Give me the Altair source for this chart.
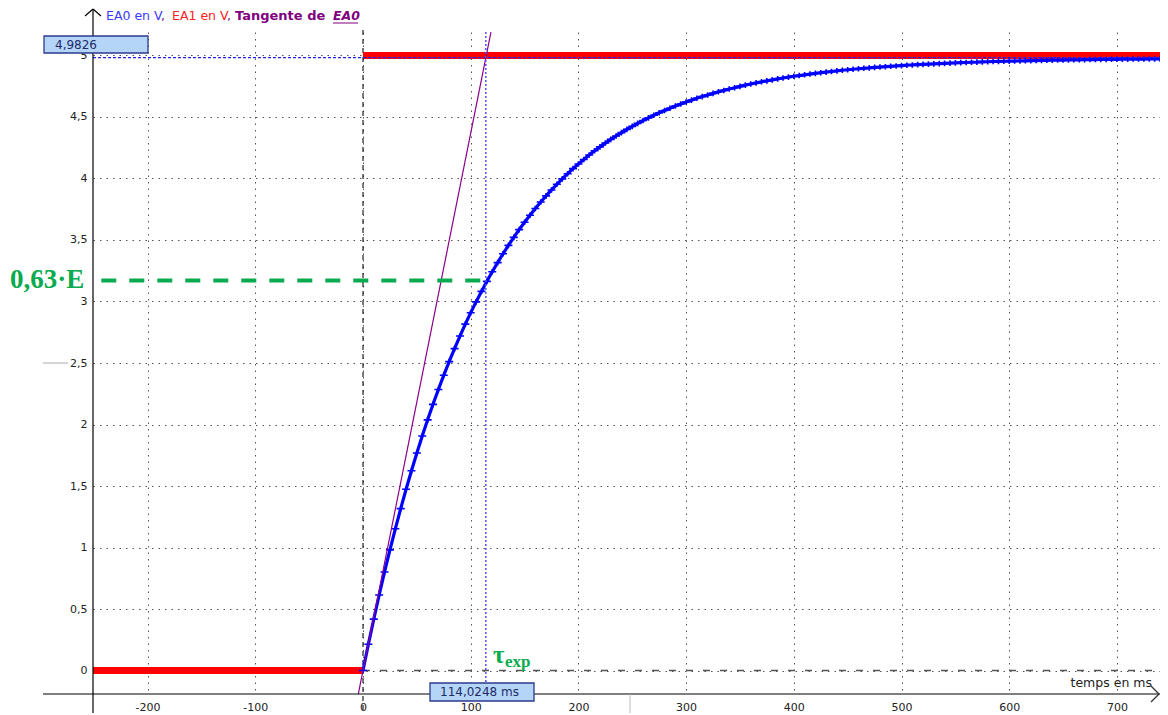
import altair as alt
import pandas as pd

# ---------------- data ----------------
t_ms = list(range(0, 745, 5))
ea0_v = [0.000, 0.214, 0.418, 0.614, 0.801, 0.981, 1.152, 1.316, 1.474, 1.624,
         1.768, 1.906, 2.038, 2.164, 2.285, 2.401, 2.511, 2.617, 2.719, 2.816,
         2.909, 2.997, 3.082, 3.164, 3.242, 3.316, 3.388, 3.456, 3.521, 3.584,
         3.644, 3.701, 3.756, 3.809, 3.859, 3.907, 3.953, 3.997, 4.039, 4.080,
         4.118, 4.155, 4.191, 4.225, 4.257, 4.288, 4.318, 4.346, 4.373, 4.399,
         4.424, 4.448, 4.471, 4.493, 4.514, 4.534, 4.553, 4.571, 4.589, 4.606,
         4.622, 4.637, 4.652, 4.666, 4.679, 4.692, 4.705, 4.716, 4.728, 4.738,
         4.749, 4.759, 4.768, 4.777, 4.786, 4.794, 4.802, 4.810, 4.817, 4.824,
         4.831, 4.837, 4.843, 4.849, 4.855, 4.860, 4.865, 4.870, 4.875, 4.880,
         4.884, 4.888, 4.892, 4.896, 4.899, 4.903, 4.906, 4.909, 4.912, 4.915,
         4.918, 4.921, 4.923, 4.926, 4.928, 4.930, 4.932, 4.934, 4.936, 4.938,
         4.940, 4.942, 4.943, 4.945, 4.946, 4.948, 4.949, 4.951, 4.952, 4.953,
         4.954, 4.955, 4.956, 4.957, 4.958, 4.959, 4.960, 4.961, 4.962, 4.963,
         4.963, 4.964, 4.965, 4.965, 4.966, 4.967, 4.967, 4.968, 4.968, 4.969,
         4.969, 4.970, 4.970, 4.971, 4.971, 4.971, 4.972, 4.972, 4.972]

ea1_start = [-252, 0]
ea1_end = [0, 742]
ea1_level = [0, 5]

tangent_t = [-4.35, 118.8]
tangent_v = [-0.19, 5.19]

tau_ms = 114.0248
e_cursor = 4.9826
v63 = 3.17
green_start = -243

x_ticks = [-200, -100, 0, 100, 200, 300, 400, 500, 600, 700]
y_ticks = [0, 0.5, 1, 1.5, 2, 2.5, 3, 3.5, 4, 4.5, 5]

X_DOMAIN = [-250.7, 740.0]
Y_DOMAIN = [-0.191, 5.191]
W, H = 1067, 662

# ---------------- chart ----------------
xs = alt.Scale(domain=X_DOMAIN, nice=False, zero=False)
ys = alt.Scale(domain=Y_DOMAIN, nice=False, zero=False)
one = pd.DataFrame({"d": [0]})

ea0 = pd.DataFrame({"t": t_ms[:len(ea0_v)], "v": ea0_v})
ea1 = pd.DataFrame({"t": ea1_start, "t2": ea1_end, "v": ea1_level})
tang = pd.DataFrame({"t": tangent_t, "v": tangent_v})

grid_dash = [1.5, 5]
xax = alt.Axis(values=x_ticks, grid=True, gridDash=grid_dash, gridColor="#555",
               gridWidth=1, domain=False, ticks=False, labelPadding=7,
               labelExpr="'' + datum.value", labelOverlap=False, labelFlush=False,
               title=None)
yax = alt.Axis(values=y_ticks, grid=True, gridDash=grid_dash, gridColor="#555",
               gridWidth=1, domain=False, ticks=False, labelPadding=6,
               labelExpr="replace(toString(datum.value), '.', ',')", labelOverlap=False,
               labelFlush=False, title=None)


def X(f="t:Q"):
    return alt.X(f, scale=xs, axis=xax, title=None)


def Y(f="v:Q"):
    return alt.Y(f, scale=ys, axis=yax, title=None)


def prule(x, x2, y, y2, color="black", width=1, dash=None):
    kw = dict(color=color, strokeWidth=width)
    if dash:
        kw["strokeDash"] = dash
    return alt.Chart(one).mark_rule(**kw).encode(
        x=alt.value(x), x2=alt.value(x2), y=alt.value(y), y2=alt.value(y2))


def txt(s, x, y, color="#222", size=12, font="DejaVu Sans", weight="normal",
        align="left", baseline="middle", style=None):
    kw = dict(text=s, align=align, baseline=baseline, color=color, fontSize=size,
              font=font, fontWeight=weight)
    if style:
        kw["fontStyle"] = style
    return alt.Chart(one).mark_text(**kw).encode(x=alt.value(x), y=alt.value(y))


def box(x, x2, y, y2):
    return alt.Chart(one).mark_rect(fill="#b4d5f7", stroke="#2d3a8f", strokeWidth=1.3).encode(
        x=alt.value(x), x2=alt.value(x2), y=alt.value(y), y2=alt.value(y2))


# vertical dashed line at t = 0
vzero = alt.Chart(pd.DataFrame({"t": [0]})).mark_rule(
    color="#222", strokeWidth=1.2, strokeDash=[5, 4]).encode(
    x=X(), y=alt.value(-2), y2=alt.value(H + 20))

# horizontal dashed line at 0 V (from t = 0)
hzero = alt.Chart(pd.DataFrame({"t": [0], "t2": [X_DOMAIN[1]], "v": [0]})).mark_rule(
    color="#555", strokeWidth=1.5, strokeDash=[7, 10]).encode(
    x=X(), x2="t2:Q", y=Y())

# EA1 (red)
red = alt.Chart(ea1).mark_rule(color="#ff0000", strokeWidth=7, clip=True).encode(
    x=X(), x2="t2:Q", y=Y())

# EA0 (blue) curve with + markers
blue_line = alt.Chart(ea0).mark_line(color="#0000ff", strokeWidth=3.2, clip=True).encode(
    x=X(), y=Y())
blue_pts = alt.Chart(ea0).mark_point(
    shape="M-1,0H1M0,-0.7V0.7", size=64, filled=False, strokeWidth=1.6,
    color="#0000ff", opacity=1, clip=True).encode(x=X(), y=Y())

# tangent (purple)
tangent = alt.Chart(tang).mark_line(color="#8b008b", strokeWidth=1.2).encode(
    x=X(), y=Y())

# cursor lines (blue dotted)
cur_v = alt.Chart(pd.DataFrame({"t": [tau_ms]})).mark_rule(
    color="#5050ff", strokeWidth=1.5, strokeDash=[2, 2]).encode(
    x=X(), y=alt.value(0), y2=alt.value(H))
cur_h = alt.Chart(pd.DataFrame({"v": [e_cursor]})).mark_rule(
    color="#2020ff", strokeWidth=1.3, strokeDash=[3, 2]).encode(
    y=Y(), x=alt.value(0), x2=alt.value(W))

# green 0.63 E dashed line
green = alt.Chart(pd.DataFrame({"t": [green_start], "t2": [tau_ms], "v": [v63]})).mark_rule(
    color="#0aab4f", strokeWidth=4, strokeDash=[15, 13]).encode(
    x=X(), x2="t2:Q", y=Y())

# axes lines and arrows (pixel decoration)
deco = [
    prule(0, 0, -23, H + 26, "black", 1.2),            # y axis
    prule(0, -8, -23, -16, "black", 1.2),
    prule(0, 8, -23, -16, "black", 1.2),
    prule(-50, W, H, H, "black", 1.2),                 # x axis
    prule(W - 1, W - 9, H, H - 8, "#333", 1.2),
    prule(W - 1, W - 9, H, H + 8, "#333", 1.2),
    prule(-50, -25, 331, 331, "#aaa", 1),              # small cursor marks
    prule(537, 537, H, H + 26, "#bbb", 1),
]

labels = [
    txt("EA0 en V", 13, -16, color="#3a3aff", size=12.5),
    txt(",", 68, -16, color="#7a1a8a", size=12.5),
    txt("EA1 en V", 79, -16, color="#ff2020", size=12.5),
    txt(",", 134, -16, color="#7a1a8a", size=12.5),
    txt("Tangente de", 142, -16, color="#800080", weight="bold", size=13),
    txt("EA0", 240, -16, color="#800080", weight="bold", style="italic", size=12.5),
    prule(240, 265, -9, -9, "#800080", 1),
    txt("temps en ms", 1059, 651, color="#222", size=12.5, align="right"),
    txt("0,63·E", -83, 248, color="#0aab4f", size=27, font="Liberation Serif", weight="bold"),
    txt("τ", 400, 631, color="#0aab4f", size=25, font="Liberation Serif", weight="bold",
        baseline="alphabetic"),
    txt("exp", 412, 635, color="#0aab4f", size=17, font="Liberation Serif", weight="bold",
        baseline="alphabetic"),
    box(-49, 55, 4, 21),
    txt("4,9826", -38, 13, color="#1c2a6b", size=12),
    box(337, 441, 651, 669),
    txt("114,0248 ms", 347, 660, color="#1c2a6b", size=12),
]

chart = alt.layer(
    vzero, hzero, red, blue_line, blue_pts, tangent, cur_h, cur_v, green,
    *deco, *labels
).properties(
    width=W, height=H,
    autosize=alt.AutoSizeParams(type="none"),
    padding={"left": 85, "top": 24, "right": 0, "bottom": 19},
    background="white",
).configure_view(stroke=None).configure_axis(
    labelFont="DejaVu Sans", labelFontSize=11, labelColor="#222"
)

chart.save("out.html", embed_options={"renderer": "svg", "actions": False})
